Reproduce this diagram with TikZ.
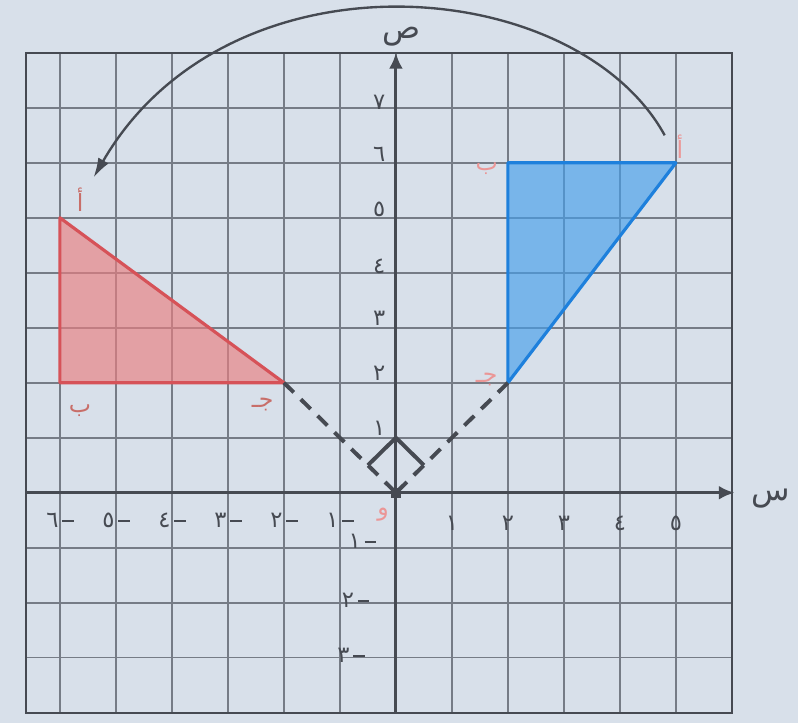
\documentclass[tikz,border=0pt]{standalone}
\usepackage{fontspec}
\usetikzlibrary{arrows.meta}
\TeXXeTstate=1
\newfontfamily\arfont[Script=Arabic]{DejaVu Sans}
\newcommand{\ar}[1]{{\arfont\beginR #1\endR}}
\newcommand{\negnum}[1]{{\arfont #1}\,\rule[0.55ex]{0.5em}{1pt}}
\definecolor{bg}{RGB}{216,224,234}
\definecolor{gridgray}{RGB}{118,124,134}
\definecolor{darkink}{RGB}{70,74,82}
\definecolor{redfill}{RGB}{234,126,128}
\definecolor{redline}{RGB}{214,82,88}
\definecolor{bluefill}{RGB}{70,158,234}
\definecolor{blueline}{RGB}{30,128,220}
\definecolor{vertred}{RGB}{200,110,105}
\definecolor{vertpink}{RGB}{235,150,150}
\begin{document}
\begin{tikzpicture}[x=1cm,y=0.982cm,
  gridl/.style={draw=gridgray, line width=0.8pt},
  borderl/.style={draw=darkink, line width=1.1pt},
  axisl/.style={draw=darkink, line width=1.6pt, -{Latex[length=8pt,width=7pt]}},
  dashl/.style={draw=darkink, line width=2pt, dash pattern=on 7pt off 5pt},
  anglel/.style={draw=darkink, line width=2pt},
  arcl/.style={draw=darkink, line width=1.2pt, -{Latex[length=10pt,width=6pt]}},
  num/.style={font=\fontsize{11.5}{12}\selectfont, text=darkink, inner sep=0pt},
  vred/.style={font=\fontsize{12}{13}\selectfont, text=vertred, inner sep=0pt},
  vpink/.style={font=\fontsize{12}{13}\selectfont, text=vertpink, inner sep=0pt},
  axname/.style={font=\fontsize{16}{17}\selectfont, text=darkink, inner sep=0pt}
 ]
\fill[bg] (-7.07,-4.18) rectangle (7.18,8.96);
\useasboundingbox (-7.07,-4.18) rectangle (7.18,8.96);
% grid
\foreach \x in {-6,...,5} \draw[gridl] (\x,-4) -- (\x,8);
\foreach \y in {-3,...,7} \draw[gridl] (-6.6,\y) -- (6,\y);
\draw[borderl] (-6.6,-4) rectangle (6,8);
% points
\coordinate (O) at (0,0);
\coordinate (A) at (-6,5);
\coordinate (B) at (-6,2);
\coordinate (C) at (-2,2);
\coordinate (A2) at (5,6);
\coordinate (B2) at (2,6);
\coordinate (C2) at (2,2);
\coordinate (xs) at (-6.6,0);
\coordinate (xe) at (6.05,0);
\coordinate (ys) at (0,-4);
\coordinate (ye) at (0,8);
\coordinate (rl) at (-0.5,0.5);
\coordinate (rt) at (0,1);
\coordinate (rr) at (0.5,0.5);
\coordinate (arcS) at (4.8,6.5);
\coordinate (arcE) at (-5.4,5.73);
% triangles
\fill[redfill, fill opacity=0.65] (A) -- (B) -- (C) -- cycle;
\draw[redline, line width=1.6pt, line join=round] (A) -- (B) -- (C) -- cycle;
\fill[bluefill, fill opacity=0.65] (A2) -- (B2) -- (C2) -- cycle;
\draw[blueline, line width=1.6pt, line join=round] (A2) -- (B2) -- (C2) -- cycle;
% axes
\draw[axisl] (xs) -- (xe);
\draw[axisl] (ys) -- (ye);
\fill[darkink] (-0.09,-0.09) rectangle (0.09,0.09);
% dashed lines and right angle
\draw[dashl] (C) -- (O);
\draw[dashl] (C2) -- (O);
\draw[anglel, line join=miter] (rl) -- (rt) -- (rr);
% rotation arc
\draw[arcl] (arcS) .. controls (3.2,9.45) and (-3.0,9.95) .. (arcE);
% x labels
\node[num] (xn6) at (-6,-0.5) {\negnum{٦}};
\node[num] (xn5) at (-5,-0.5) {\negnum{٥}};
\node[num] (xn4) at (-4,-0.5) {\negnum{٤}};
\node[num] (xn3) at (-3,-0.5) {\negnum{٣}};
\node[num] (xn2) at (-2,-0.5) {\negnum{٢}};
\node[num] (xn1) at (-1,-0.5) {\negnum{١}};
\node[num] (xp1) at (1,-0.55) {\ar{١}};
\node[num] (xp2) at (2,-0.55) {\ar{٢}};
\node[num] (xp3) at (3,-0.55) {\ar{٣}};
\node[num] (xp4) at (4,-0.55) {\ar{٤}};
\node[num] (xp5) at (5,-0.55) {\ar{٥}};
% y labels
\node[num] (yp1) at (-0.3,1.18) {\ar{١}};
\node[num] (yp2) at (-0.3,2.18) {\ar{٢}};
\node[num] (yp3) at (-0.3,3.18) {\ar{٣}};
\node[num] (yp4) at (-0.3,4.12) {\ar{٤}};
\node[num] (yp5) at (-0.3,5.15) {\ar{٥}};
\node[num] (yp6) at (-0.3,6.15) {\ar{٦}};
\node[num] (yp7) at (-0.3,7.1) {\ar{٧}};
\node[num] (yn1) at (-0.6,-0.88) {\negnum{١}};
\node[num] (yn2) at (-0.72,-1.95) {\negnum{٢}};
\node[num] (yn3) at (-0.8,-2.95) {\negnum{٣}};
% axis names
\node[axname] (sx) at (6.7,-0.1) {\ar{س}};
\node[axname] (sy) at (0.1,8.3) {\ar{ص}};
\node[vpink] (on) at (-0.23,-0.4) {\ar{و}};
% vertex labels
\node[vred] (la) at (-5.64,5.33) {\ar{أ}};
\node[vred] (lb) at (-5.64,1.5) {\ar{ب}};
\node[vred] (lc) at (-2.38,1.6) {\ar{جـ}};
\node[vpink] (la2) at (5.07,6.3) {\ar{أ}};
\node[vpink] (lb2) at (1.62,5.9) {\ar{ب}};
\node[vpink] (lc2) at (1.62,2.05) {\ar{جـ}};
\end{tikzpicture}
\end{document}
